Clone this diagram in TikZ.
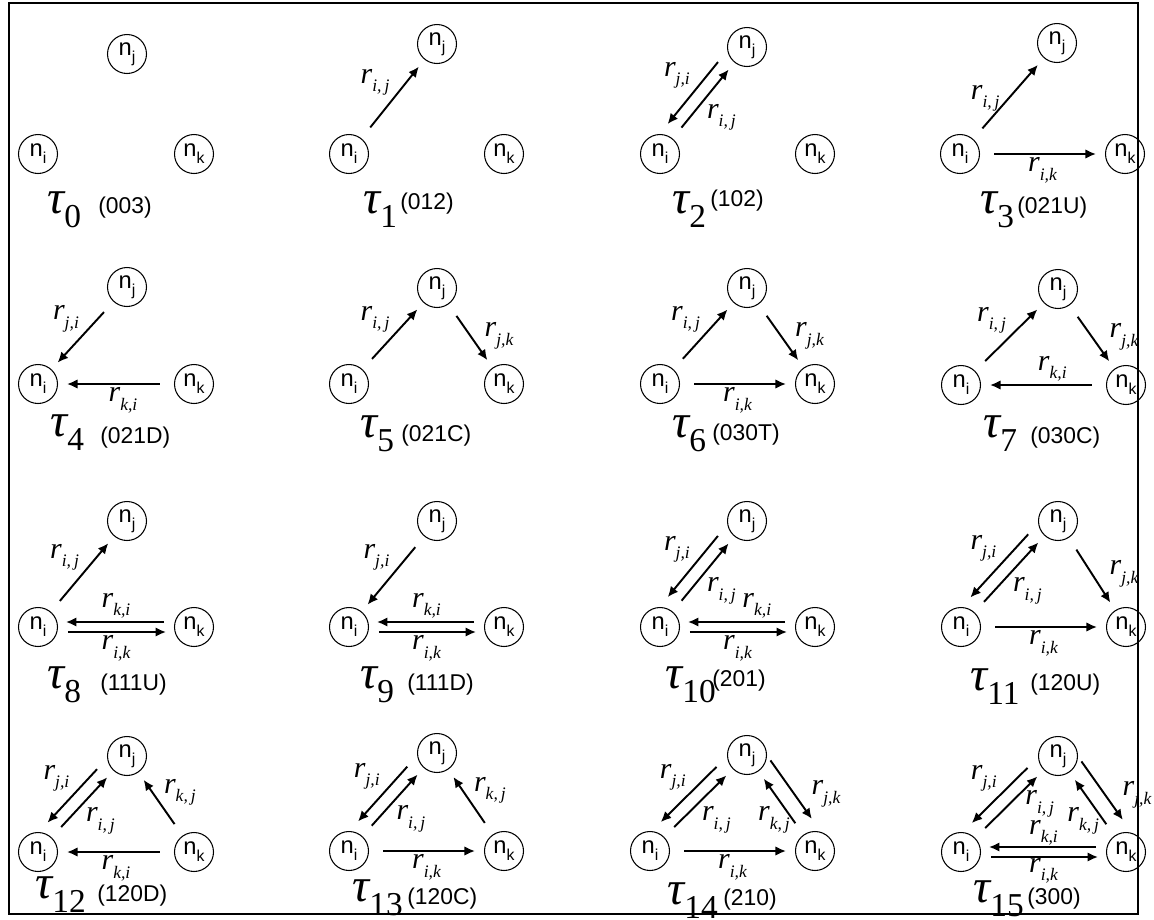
\documentclass[tikz,border=0pt]{standalone}
\usepackage{fontspec}
\setmainfont{Liberation Serif}
\setsansfont{Liberation Sans}
\usetikzlibrary{arrows.meta,calc}

\begin{document}
\begin{tikzpicture}[
    x=0.02cm, y=-0.02cm,
    >={Latex[length=2.1mm,width=1.9mm]},
    nd/.style={circle, draw=black, line width=0.6pt, minimum size=0.78cm, inner sep=0pt, font=\sffamily\fontsize{13.5}{13.5}\selectfont},
    arr/.style={->, line width=1.1pt, shorten <=0.28cm, shorten >=0.18cm},
    arrp/.style={->, line width=1.1pt, shorten <=0.6cm, shorten >=0.56cm},
    rl/.style={font=\fontsize{17}{17}\selectfont\itshape, inner sep=1.5pt},
    tau/.style={anchor=base west, inner sep=0pt},
    code/.style={anchor=base west, inner sep=0pt, font=\sffamily\fontsize{13}{13}\selectfont},
    frame/.style={draw=black, line width=0.8pt},
  ]

  \def\nn#1{n\raisebox{-0.3em}{\fontsize{9}{9}\selectfont#1}}
  \def\rr#1{r\raisebox{-0.28em}{\fontsize{10}{10}\selectfont#1}}
  \def\tl#1{{\fontsize{27}{27}\selectfont\itshape τ}\raisebox{-8pt}{\fontsize{19}{19}\selectfont#1}}

  \useasboundingbox (0,0) rectangle (1154,920);
  \draw[frame] (9,3) rectangle (1138,914);

  % the three actors of each triad
  \foreach \t/\ix/\y/\jx/\jy/\kx in {0/38/154/127/54/194, 1/349/154/437/44/504,
      2/660/154/747/47/815, 3/960/154/1057/43/1125, 4/38/384/127/287/194,
      5/349/384/437/288/504, 6/660/384/747/288/815, 7/961/385/1058/289/1126,
      8/38/627/127/521/194, 9/349/627/437/521/504, 10/660/627/747/521/815,
      11/961/627/1058/521/1126, 12/38/852/127/756/194, 13/349/851/437/753/504,
      14/650/851/747/755/815, 15/961/852/1058/756/1126}{
    \node[nd] (i\t) at (\ix,\y) {\nn{i}};
    \node[nd] (j\t) at (\jx,\jy) {\nn{j}};
    \node[nd] (k\t) at (\kx,\y) {\nn{k}};
  }

  % triad names and MAN codes
  \foreach \t/\tx/\ty/\cx/\cy/\c in {0/47/213/98/213/003, 1/363/213/400/209/012,
      2/672/213/710/206/102, 3/980/213/1017/213/021U, 4/50/436/100/443/021D,
      5/360/437/401/441/021C, 6/672/437/712/440/030T, 7/983/437/1030/443/030C,
      8/47/688/100/690/111U, 9/360/688/407/690/111D, 10/665/688/712/686/201,
      11/970/690/1030/690/120U, 12/35/898/97/901/120D, 13/352/901/407/904/120C,
      14/667/904/723/905/210, 15/973/902/1027/904/300}{
    \node[tau] (t\t) at (\tx,\ty) {\tl{\t}};
    \node[code] (c\t) at (\cx,\cy) {(\c)};
  }

  % tau 1
  \draw[arr] (i1) -- (j1) node[rl, midway, above left] (l1ij) {\rr{i,\,j}};

  % tau 2
  \draw[arrp] ($(j2)!0.26cm!-90:(i2)$) -- ($(i2)!0.26cm!90:(j2)$) node[rl, midway, above left] (l2ji) {\rr{j,i}};
  \draw[arr] (i2) -- (j2) node[rl, midway, below right] (l2ij) {\rr{i,\,j}};

  % tau 3
  \draw[arr] (i3) -- (j3) node[rl, midway, left=3pt] (l3ij) {\rr{i,\,j}};
  \draw[arr] (i3) -- (k3) node[rl, midway, below] (l3ik) {\rr{i,k}};

  % tau 4
  \draw[arr] (j4) -- (i4) node[rl, midway, above left] (l4ji) {\rr{j,i}};
  \draw[arr] (k4) -- (i4) node[rl, midway, below, xshift=4pt] (l4ki) {\rr{k,i}};

  % tau 5
  \draw[arr] (i5) -- (j5) node[rl, midway, above left] (l5ij) {\rr{i,\,j}};
  \draw[arr] (j5) -- (k5) node[rl, midway, right=6pt] (l5jk) {\rr{j,k}};

  % tau 6
  \draw[arr] (i6) -- (j6) node[rl, midway, above left] (l6ij) {\rr{i,\,j}};
  \draw[arr] (j6) -- (k6) node[rl, midway, right=6pt] (l6jk) {\rr{j,k}};
  \draw[arr] (i6) -- (k6) node[rl, midway, below] (l6ik) {\rr{i,k}};

  % tau 7
  \draw[arr] (i7) -- (j7) node[rl, midway, above left] (l7ij) {\rr{i,\,j}};
  \draw[arr] (j7) -- (k7) node[rl, midway, right=8pt] (l7jk) {\rr{j,k}};
  \draw[arr] (k7) -- (i7) node[rl, midway, above, xshift=5pt] (l7ki) {\rr{k,i}};

  % tau 8
  \draw[arr] (i8) -- (j8) node[rl, midway, above left] (l8ij) {\rr{i,\,j}};
  \draw[arrp] ($(k8)!0.1cm!-90:(i8)$) -- ($(i8)!0.1cm!90:(k8)$) node[rl, midway, above] (l8ki) {\rr{k,i}};
  \draw[arrp] ($(i8)!0.1cm!-90:(k8)$) -- ($(k8)!0.1cm!90:(i8)$) node[rl, midway, below] (l8ik) {\rr{i,k}};

  % tau 9
  \draw[arr] (j9) -- (i9) node[rl, midway, above left] (l9ji) {\rr{j,i}};
  \draw[arrp] ($(k9)!0.1cm!-90:(i9)$) -- ($(i9)!0.1cm!90:(k9)$) node[rl, midway, above] (l9ki) {\rr{k,i}};
  \draw[arrp] ($(i9)!0.1cm!-90:(k9)$) -- ($(k9)!0.1cm!90:(i9)$) node[rl, midway, below] (l9ik) {\rr{i,k}};

  % tau 10
  \draw[arrp] ($(j10)!0.26cm!-90:(i10)$) -- ($(i10)!0.26cm!90:(j10)$) node[rl, midway, above left] (l10ji) {\rr{j,i}};
  \draw[arr] (i10) -- (j10) node[rl, midway, below right] (l10ij) {\rr{i,\,j}};
  \draw[arrp] ($(k10)!0.1cm!-90:(i10)$) -- ($(i10)!0.1cm!90:(k10)$) node[rl, midway, above, xshift=11pt] (l10ki) {\rr{k,i}};
  \draw[arrp] ($(i10)!0.1cm!-90:(k10)$) -- ($(k10)!0.1cm!90:(i10)$) node[rl, midway, below] (l10ik) {\rr{i,k}};

  % tau 11
  \draw[arrp] ($(j11)!0.26cm!-90:(i11)$) -- ($(i11)!0.26cm!90:(j11)$) node[rl, midway, above left] (l11ji) {\rr{j,i}};
  \draw[arr] (i11) -- (j11) node[rl, midway, below right] (l11ij) {\rr{i,\,j}};
  \draw[arr] (j11) -- (k11) node[rl, midway, right=8pt] (l11jk) {\rr{j,k}};
  \draw[arr] (i11) -- (k11) node[rl, midway, below] (l11ik) {\rr{i,k}};

  % tau 12
  \draw[arrp] ($(j12)!0.26cm!-90:(i12)$) -- ($(i12)!0.26cm!90:(j12)$) node[rl, midway, above left] (l12ji) {\rr{j,i}};
  \draw[arr] (i12) -- (j12) node[rl, midway, below right] (l12ij) {\rr{i,\,j}};
  \draw[arr] (k12) -- (j12) node[rl, midway, above right, yshift=-3pt] (l12kj) {\rr{k,\,j}};
  \draw[arr] (k12) -- (i12) node[rl, midway, below=0pt] (l12ki) {\rr{k,i}};

  % tau 13
  \draw[arrp] ($(j13)!0.26cm!-90:(i13)$) -- ($(i13)!0.26cm!90:(j13)$) node[rl, midway, above left] (l13ji) {\rr{j,i}};
  \draw[arr] (i13) -- (j13) node[rl, midway, below right] (l13ij) {\rr{i,\,j}};
  \draw[arr] (k13) -- (j13) node[rl, midway, above right, yshift=-3pt] (l13kj) {\rr{k,\,j}};
  \draw[arr] (i13) -- (k13) node[rl, midway, below] (l13ik) {\rr{i,k}};

  % tau 14
  \draw[arrp] ($(j14)!0.26cm!-90:(i14)$) -- ($(i14)!0.26cm!90:(j14)$) node[rl, midway, above left] (l14ji) {\rr{j,i}};
  \draw[arr] (i14) -- (j14) node[rl, midway, below right] (l14ij) {\rr{i,\,j}};
  \draw[arrp, shorten <=0.36cm] ($(j14)!0.32cm!90:(k14)$) -- ($(k14)!0.32cm!-90:(j14)$) node[rl, midway, right=8pt] (l14jk) {\rr{j,k}};
  \draw[arr] (k14) -- (j14) node[rl, midway, below, xshift=-4pt] (l14kj) {\rr{k,\,j}};
  \draw[arr] (i14) -- (k14) node[rl, midway, below] (l14ik) {\rr{i,k}};

  % tau 15
  \draw[arrp] ($(j15)!0.26cm!-90:(i15)$) -- ($(i15)!0.26cm!90:(j15)$) node[rl, midway, above left] (l15ji) {\rr{j,i}};
  \draw[arr] (i15) -- (j15) node[rl, midway, right=7pt] (l15ij) {\rr{i,\,j}};
  \draw[arrp, shorten <=0.36cm] ($(j15)!0.32cm!90:(k15)$) -- ($(k15)!0.32cm!-90:(j15)$) node[rl, midway, right=8pt] (l15jk) {\rr{j,k}};
  \draw[arr] (k15) -- (j15) node[rl, midway, below, xshift=-5pt] (l15kj) {\rr{k,\,j}};
  \draw[arrp] ($(k15)!0.1cm!-90:(i15)$) -- ($(i15)!0.1cm!90:(k15)$) node[rl, midway, above, inner sep=0.5pt] (l15ki) {\rr{k,i}};
  \draw[arrp] ($(i15)!0.1cm!-90:(k15)$) -- ($(k15)!0.1cm!90:(i15)$) node[rl, midway, below, inner sep=0pt] (l15ik) {\rr{i,k}};

\end{tikzpicture}
\end{document}
